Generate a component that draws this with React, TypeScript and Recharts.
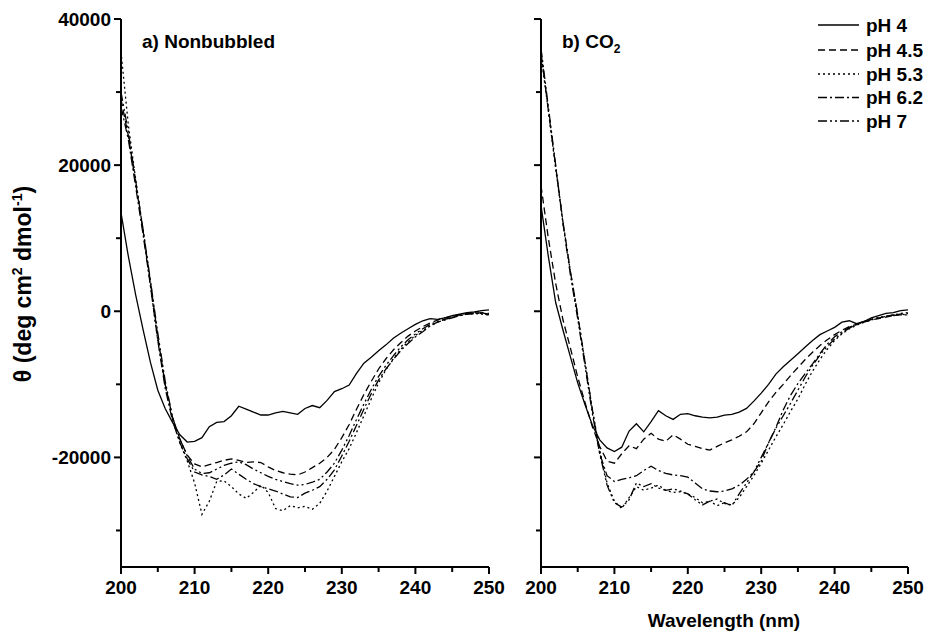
import React from 'react';
import { LineChart, Line, XAxis, YAxis } from 'recharts';

const FONT = "'Liberation Sans', Arial, Helvetica, sans-serif";

const wavelengths = [
  200, 201, 202, 203, 204, 205, 206, 207, 208, 209,
  210, 211, 212, 213, 214, 215, 216, 217, 218, 219,
  220, 221, 222, 223, 224, 225, 226, 227, 228, 229,
  230, 231, 232, 233, 234, 235, 236, 237, 238, 239,
  240, 241, 242, 243, 244, 245, 246, 247, 248, 249, 250,
];

const seriesNames = ['pH 4', 'pH 4.5', 'pH 5.3', 'pH 6.2', 'pH 7'];

// a) Nonbubbled
const nbPH4 = [
  13500, 7500, 2200, -2500, -7000, -10800, -13300, -15200, -16900, -17900,
  -17800, -17300, -15800, -15200, -15100, -14300, -13000, -13400, -13800, -14200,
  -14200, -13900, -13700, -13900, -14100, -13300, -12900, -13200, -12200, -11000,
  -10600, -10100, -8500, -7100, -6300, -5400, -4600, -3700, -3000, -2400,
  -1800, -1300, -1000, -1100, -900, -600, -400, -200, -100, 100, 200,
];
const nbPH45 = [
  29000, 24000, 17500, 11000, 4000, -3500, -10000, -14500, -17500, -19700,
  -20900, -21300, -21000, -20700, -20400, -20200, -20400, -20700, -20600, -20700,
  -21300, -21800, -22100, -22300, -22400, -22000, -21400, -20800, -20000, -18900,
  -17300, -15500, -13400, -11400, -9600, -7900, -6500, -5300, -4300, -3400,
  -2700, -2100, -1600, -1200, -900, -700, -500, -400, -300, -200, -300,
];
const nbPH53 = [
  35500, 25500, 18000, 11000, 3500, -4000, -10000, -14800, -18000, -20500,
  -23500, -27800, -26000, -23300, -23200, -24000, -25000, -25600, -24800, -23800,
  -24800, -27000, -27300, -26600, -26900, -26700, -27100, -26300, -24600, -22600,
  -20600, -18800, -16600, -14300, -12000, -9800, -8000, -6500, -5200, -4200,
  -3300, -2600, -2000, -1500, -1100, -800, -600, -400, -300, -400, -500,
];
const nbPH62 = [
  28000, 23500, 17000, 10500, 3500, -4000, -10500, -15000, -18000, -20200,
  -22000, -22400, -22600, -23000, -22400, -21600, -22300, -23000, -23600, -24000,
  -24300, -24600, -25000, -25400, -25500, -24900, -24500, -24000, -23000, -21700,
  -19800, -17800, -15600, -13400, -11300, -9400, -7900, -6600, -5400, -4400,
  -3500, -2800, -2000, -1500, -1200, -900, -600, -400, -300, -200, -400,
];
const nbPH7 = [
  30000, 24500, 17800, 11200, 4200, -3000, -9500, -14500, -17500, -19800,
  -21600, -22200, -22100, -21600, -21100, -20800, -20600, -21000, -21600, -22100,
  -22600, -23000, -23300, -23600, -23800, -23700, -23400, -23000, -22000, -20800,
  -19000, -17000, -14800, -12700, -10700, -8900, -7400, -6100, -4900, -3900,
  -3100, -2400, -1800, -1400, -1100, -800, -500, -300, -200, -300, -500,
];

// b) CO2
const co2PH4 = [
  14500, 7500, 1200, -2600, -6200, -9800, -12800, -15600, -17600, -18700,
  -19200, -18600, -16400, -15400, -16500, -15100, -13600, -14300, -14800, -14100,
  -14000, -14300, -14500, -14600, -14500, -14200, -14100, -13800, -13300, -12300,
  -11200, -10000, -8600, -7600, -6700, -5800, -4900, -4000, -3200, -2700,
  -2200, -1500, -1300, -1700, -1400, -900, -600, -300, -200, 100, 200,
];
const co2PH45 = [
  17200, 10000, 3800, -1200, -5000, -9000, -12500, -15800, -18500, -20500,
  -20800, -19500, -18400, -18800, -17500, -16700, -17500, -17800, -16900, -17500,
  -18200, -18500, -18800, -19000, -18500, -18000, -17600, -17100, -16500, -15400,
  -13900, -12400, -11100, -10000, -8800, -7700, -6600, -5600, -4700, -3900,
  -3200, -2600, -2100, -1800, -1500, -1200, -1000, -800, -600, -400, -300,
];
const co2PH53 = [
  35000, 27500, 19500, 12000, 5500, -500, -7000, -13500, -19000, -23500,
  -26000, -27000, -25500, -24000, -24500, -24200, -23800, -24500, -24800, -24700,
  -25000, -25500, -26200, -26000, -25700, -26300, -26500, -25500, -24000, -22500,
  -20800, -19000, -17200, -15500, -13700, -12000, -10000, -8200, -6600, -5200,
  -4000, -3100, -2400, -1900, -1500, -1200, -900, -700, -500, -300, -200,
];
const co2PH62 = [
  35500, 27500, 19800, 12200, 5500, -500, -7000, -13500, -19500, -22500,
  -23300, -23000, -22800, -22500, -21800, -21200, -21800, -22200, -22400, -22500,
  -22700, -23500, -24300, -24600, -24700, -24600, -24300, -23800, -23000, -22000,
  -20500, -18000, -15900, -13500, -11500, -9900, -8500, -7200, -5800, -4500,
  -3500, -2800, -2200, -1800, -1400, -1100, -900, -700, -600, -500, -500,
];
const co2PH7 = [
  36000, 28000, 20000, 12000, 5000, -1000, -7500, -14000, -19500, -23800,
  -26200, -26800, -25800, -23500, -24000, -23600, -24200, -24500, -24300, -24600,
  -25000, -25800, -26500, -26000, -26600, -26200, -26600, -25000, -23500, -22000,
  -20000, -18000, -16000, -14300, -12600, -10800, -9000, -7400, -6000, -4800,
  -3800, -3000, -2300, -1800, -1400, -1100, -900, -700, -500, -400, -500,
];

const xTicks = [200, 205, 210, 215, 220, 225, 230, 235, 240, 245, 250];
const xMajor = [200, 210, 220, 230, 240, 250];
const yTicks = [-30000, -20000, -10000, 0, 10000, 20000, 30000, 40000];
const yMajor = [-20000, 0, 20000, 40000];

const keys = ['s0', 's1', 's2', 's3', 's4'];
const dashStyles = ['', '7 4', '2 3', '9 3 2 3', '9 3 2 3 2 3'];

function buildRows(series: number[][]) {
  return wavelengths.map((w, i) => {
    const row: any = { w };
    series.forEach((s, k) => {
      row[keys[k]] = s[i];
    });
    return row;
  });
}

const nbRows = buildRows([nbPH4, nbPH45, nbPH53, nbPH62, nbPH7]);
const co2Rows = buildRows([co2PH4, co2PH45, co2PH53, co2PH62, co2PH7]);

const XTick = (props: any) => {
  const { x, y, payload } = props;
  const major = xMajor.includes(payload.value);
  return (
    <g>
      <line x1={x} x2={x} y1={y} y2={y + (major ? 7 : 5)} stroke="#000" strokeWidth={2} />
      {major && (
        <text x={x} y={y + 27} textAnchor="middle" fontFamily={FONT} fontWeight="bold" fontSize={19} fill="#000">
          {payload.value}
        </text>
      )}
    </g>
  );
};

const makeYTick = (showLabels: boolean) => (props: any) => {
  const { x, y, payload } = props;
  const major = yMajor.includes(payload.value);
  return (
    <g>
      <line x1={x - (major ? 7 : 5)} x2={x} y1={y} y2={y} stroke="#000" strokeWidth={2} />
      {showLabels && major && (
        <text x={x - 10} y={y + 7} textAnchor="end" fontFamily={FONT} fontWeight="bold" fontSize={19} fill="#000">
          {payload.value}
        </text>
      )}
    </g>
  );
};

const axisLineStyle = { stroke: '#000', strokeWidth: 2 };

function Panel({ rows, width, margin, yWidth, showYLabels }: any) {
  return (
    <LineChart width={width} height={635} data={rows} margin={margin}>
      <XAxis
        dataKey="w"
        type="number"
        domain={[200, 250]}
        ticks={xTicks}
        interval={0}
        tickSize={0}
        tickMargin={0}
        tickLine={false}
        axisLine={axisLineStyle}
        tick={XTick}
        height={30}
        allowDataOverflow
      />
      <YAxis
        type="number"
        domain={[-35000, 40000]}
        ticks={yTicks}
        interval={0}
        width={yWidth}
        tickSize={0}
        tickMargin={0}
        tickLine={false}
        axisLine={axisLineStyle}
        tick={makeYTick(showYLabels)}
        allowDataOverflow
      />
      {keys.map((k, i) => (
        <Line
          key={k}
          name={seriesNames[i]}
          dataKey={k}
          type="linear"
          stroke="#000"
          strokeWidth={1.3}
          strokeDasharray={dashStyles[i] || undefined}
          dot={false}
          activeDot={false}
          isAnimationActive={false}
        />
      ))}
    </LineChart>
  );
}

const legendRowsY = [25, 50, 74, 97.5, 121];

export default function App() {
  return (
    <div style={{ position: 'absolute', left: 0, top: 0, width: 927, height: 635, background: '#fff' }}>
      <div style={{ position: 'absolute', left: 0, top: 0 }}>
        <Panel rows={nbRows} width={530} margin={{ top: 19, right: 41, bottom: 38, left: 61 }} yWidth={60} showYLabels={true} />
      </div>
      <div style={{ position: 'absolute', left: 500, top: 0 }}>
        <Panel rows={co2Rows} width={427} margin={{ top: 19, right: 19, bottom: 38, left: 31 }} yWidth={10} showYLabels={false} />
      </div>
      <svg width={927} height={635} style={{ position: 'absolute', left: 0, top: 0, pointerEvents: 'none' }}>
        <text transform="translate(31, 284) rotate(-90)" textAnchor="middle" fontFamily={FONT} fontWeight="bold" fontSize={23} fill="#000">
          θ (deg cm<tspan dy={-9} fontSize={14}>2</tspan>
          <tspan dy={9}> dmol</tspan>
          <tspan dy={-9} fontSize={14}>-1</tspan>
          <tspan dy={9}>)</tspan>
        </text>
        <text x={724} y={627} textAnchor="middle" fontFamily={FONT} fontWeight="bold" fontSize={19} fill="#000">
          Wavelength (nm)
        </text>
        <text x={142} y={48} fontFamily={FONT} fontWeight="bold" fontSize={19} fill="#000">
          a) Nonbubbled
        </text>
        <text x={562} y={48} fontFamily={FONT} fontWeight="bold" fontSize={19} fill="#000">
          b) CO<tspan dy={5} fontSize={12}>2</tspan>
        </text>
        {seriesNames.map((name, i) => (
          <g key={name}>
            <line
              x1={818}
              x2={859}
              y1={legendRowsY[i]}
              y2={legendRowsY[i]}
              stroke="#000"
              strokeWidth={1.3}
              strokeDasharray={dashStyles[i] || undefined}
            />
            <text x={866} y={legendRowsY[i] + 6.5} fontFamily={FONT} fontWeight="bold" fontSize={19} fill="#000">
              {name}
            </text>
          </g>
        ))}
      </svg>
    </div>
  );
}
